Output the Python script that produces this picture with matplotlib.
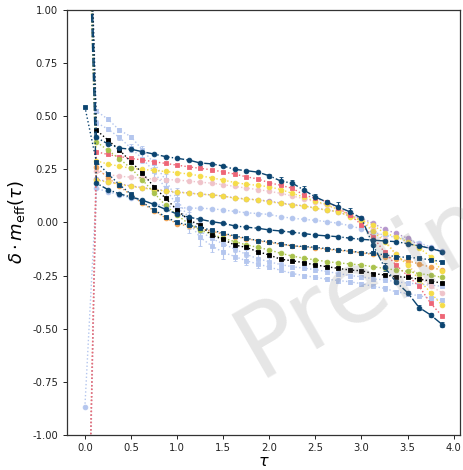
import matplotlib
matplotlib.use("Agg")
import matplotlib.pyplot as plt
import numpy as np

tau = [0.0, 0.125, 0.25, 0.375, 0.5, 0.625, 0.75, 0.875, 1.0, 1.125, 1.25, 1.375,
       1.5, 1.625, 1.75, 1.875, 2.0, 2.125, 2.25, 2.375, 2.5, 2.625, 2.75, 2.875,
       3.0, 3.125, 3.25, 3.375, 3.5, 3.625, 3.75, 3.875]

navy_top = [2.2, 0.40, 0.37, 0.35, 0.345, 0.333, 0.322, 0.31, 0.302, 0.294, 0.28, 0.276,
            0.266, 0.25, 0.244, 0.237, 0.22, 0.195, 0.185, 0.153, 0.12, 0.096, 0.073, 0.05,
            0.02, -0.106, -0.21, -0.28, -0.33, -0.40, -0.435, -0.48]
navy_top_err = [0, 0, 0, 0, 0, 0, 0, 0, 0, 0, 0, 0,
                0, 0, 0, 0, 0.01, 0.02, 0.015, 0.02, 0.015, 0.01, 0.025, 0.02,
                0.01, 0.03, 0.02, 0.01, 0.01, 0.01, 0.01, 0.01]
pink = [-2.4, 0.333, 0.32, 0.31, 0.302, 0.294, 0.286, 0.278, 0.27, 0.262, 0.255, 0.248,
        0.238, 0.228, 0.215, 0.205, 0.187, 0.175, 0.161, 0.13, 0.114, 0.098, 0.067, 0.035,
        -0.01, -0.067, -0.14, -0.2, -0.25, -0.30, -0.38, -0.44]
yellow = [2.0, 0.29, 0.275, 0.265, 0.255, 0.25, 0.245, 0.24, 0.235, 0.228, 0.22, 0.21,
          0.2, 0.188, 0.18, 0.175, 0.168, 0.155, 0.137, 0.12, 0.1, 0.085, 0.06, 0.035,
          0.005, -0.04, -0.09, -0.15, -0.2, -0.27, -0.33, -0.39]
light_pink = [-2.5, 0.24, 0.225, 0.218, 0.213, 0.208, 0.205, 0.202, 0.2, 0.195, 0.19, 0.185,
              0.178, 0.17, 0.162, 0.155, 0.147, 0.137, 0.125, 0.112, 0.098, 0.08, 0.06, 0.04,
              0.01, -0.03, -0.08, -0.15, -0.2, -0.25, -0.3, -0.33]
yellow2 = [2.05, 0.2, 0.19, 0.18, 0.17, 0.162, 0.155, 0.148, 0.142, 0.138, 0.133, 0.13,
           0.125, 0.114, 0.11, 0.106, 0.098, 0.09, 0.082, 0.078, 0.067, 0.058, 0.051, 0.027,
           0.012, -0.012, -0.05, -0.067, -0.09, -0.12, -0.16, -0.23]
purple = [-2.3, 0.205, 0.192, 0.182, 0.172, 0.164, 0.157, 0.15, 0.144, 0.139, 0.134, 0.13,
          0.124, 0.116, 0.111, 0.107, 0.1, 0.092, 0.084, 0.079, 0.068, 0.059, 0.05, 0.03,
          0.02, -0.004, -0.032, -0.051, -0.074, -0.106, -0.121, -0.137]
light_blue_mid = [-0.87, 0.16, 0.145, 0.13, 0.115, 0.1, 0.088, 0.078, 0.07, 0.068, 0.067, 0.065,
                  0.059, 0.052, 0.046, 0.042, 0.038, 0.027, 0.02, 0.015, 0.01, 0.004, -0.004, -0.015,
                  -0.03, -0.045, -0.06, -0.07, -0.08, -0.095, -0.115, -0.134]
navy_mid = [2.1, 0.185, 0.155, 0.135, 0.12, 0.105, 0.085, 0.062, 0.04, 0.025, 0.015, 0.004,
            -0.004, -0.016, -0.022, -0.027, -0.035, -0.04, -0.046, -0.052, -0.059, -0.063, -0.067, -0.074,
            -0.079, -0.083, -0.087, -0.09, -0.1, -0.11, -0.122, -0.137]
navy_low = [0.545, 0.286, 0.23, 0.178, 0.133, 0.095, 0.059, 0.027, 0.0, -0.012, -0.025, -0.035,
            -0.051, -0.063, -0.074, -0.085, -0.09, -0.1, -0.11, -0.113, -0.117, -0.123, -0.129, -0.134,
            -0.142, -0.145, -0.152, -0.161, -0.164, -0.168, -0.176, -0.184]
orange = [-2.3, 0.26, 0.21, 0.17, 0.13, 0.09, 0.055, 0.022, -0.005, -0.018, -0.03, -0.04,
          -0.055, -0.066, -0.076, -0.086, -0.094, -0.102, -0.11, -0.115, -0.12, -0.126, -0.131, -0.136,
          -0.143, -0.15, -0.16, -0.17, -0.18, -0.195, -0.21, -0.225]
green = [2.1, 0.38, 0.34, 0.30, 0.255, 0.2, 0.14, 0.08, 0.035, -0.005, -0.035, -0.055,
         -0.074, -0.09, -0.105, -0.117, -0.129, -0.145, -0.158, -0.168, -0.176, -0.184, -0.19, -0.195,
         -0.2, -0.208, -0.216, -0.224, -0.23, -0.24, -0.248, -0.258]
black = [2.3, 0.435, 0.388, 0.341, 0.286, 0.232, 0.168, 0.114, 0.059, 0.012, -0.012, -0.059,
         -0.08, -0.106, -0.117, -0.137, -0.153, -0.173, -0.18, -0.189, -0.2, -0.208, -0.216, -0.224,
         -0.227, -0.24, -0.247, -0.255, -0.258, -0.267, -0.275, -0.286]
light_blue_a = [2.2, 0.525, 0.486, 0.435, 0.404, 0.341, 0.28, 0.2, 0.11, 0.02, -0.04, -0.075,
                -0.1, -0.125, -0.15, -0.17, -0.185, -0.198, -0.208, -0.215, -0.222, -0.231, -0.24, -0.25,
                -0.255, -0.265, -0.27, -0.279, -0.285, -0.29, -0.295, -0.30]
light_blue_a_err = [0, 0.01, 0.01, 0.01, 0.01, 0.02, 0.02, 0.03, 0.05, 0.05, 0.04, 0.04,
                    0.03, 0.03, 0.02, 0.02, 0.02, 0.01, 0.01, 0.01, 0.01, 0.01, 0.01, 0.01,
                    0.01, 0.01, 0.01, 0.01, 0.01, 0.01, 0.01, 0.01]
light_blue_b = [2.0, 0.47, 0.44, 0.40, 0.35, 0.3, 0.24, 0.16, 0.08, 0.0, -0.07, -0.11,
                -0.14, -0.16, -0.18, -0.195, -0.21, -0.225, -0.24, -0.25, -0.258, -0.267, -0.273, -0.279,
                -0.288, -0.3, -0.31, -0.326, -0.335, -0.345, -0.355, -0.365]
light_blue_b_err = [0, 0.01, 0.01, 0.01, 0.02, 0.02, 0.03, 0.04, 0.05, 0.05, 0.04, 0.03,
                    0.03, 0.02, 0.02, 0.02, 0.01, 0.01, 0.01, 0.01, 0.01, 0.01, 0.01, 0.01,
                    0.01, 0.01, 0.01, 0.01, 0.01, 0.01, 0.01, 0.01]

C_NAVY = '#0b4470'
C_PINK = '#ee6677'
C_YEL = '#f5dc48'
C_LPINK = '#efc3ca'
C_PURP = '#b596cc'
C_LB = '#b4c6ee'
C_ORA = '#eea050'
C_GREEN = '#a9c24c'
C_BLACK = '#000000'

fig = plt.figure(figsize=(4.64, 4.70), dpi=100)
ax = fig.add_axes([67/464, 35/470, (460-67)/464, (435-10)/470])

series = [
    (light_blue_b, light_blue_b_err, C_LB, 's', ':'),
    (light_blue_a, light_blue_a_err, C_LB, 's', ':'),
    (light_blue_mid, None, C_LB, 'o', ':'),
    (light_pink, None, C_LPINK, 'o', ':'),
    (orange, None, C_ORA, 'o', ':'),
    (purple, None, C_PURP, 'o', ':'),
    (yellow2, None, C_YEL, 'o', ':'),
    (yellow, None, C_YEL, 'o', ':'),
    (pink, None, C_PINK, 's', ':'),
    (green, None, C_GREEN, 'o', ':'),
    (black, None, C_BLACK, 's', ':'),
    (navy_low, None, C_NAVY, 's', ':'),
    (navy_mid, None, C_NAVY, 'o', '-.'),
    (navy_top, navy_top_err, C_NAVY, 'o', '-.'),
]

for vals, err, col, mk, ls in series:
    ax.errorbar(tau, vals, yerr=err, color=col, marker=mk, markersize=3.4,
                linestyle=ls, linewidth=1.0, capsize=1.5, elinewidth=0.8,
                markeredgewidth=0.6)

ax.set_ylim(-1.0, 1.0)
ax.set_xticks([0.0, 0.5, 1.0, 1.5, 2.0, 2.5, 3.0, 3.5, 4.0])
ax.set_yticks([-1.0, -0.75, -0.5, -0.25, 0.0, 0.25, 0.5, 0.75, 1.0])
ax.xaxis.set_major_formatter(matplotlib.ticker.FormatStrFormatter('%.1f'))
ax.yaxis.set_major_formatter(matplotlib.ticker.FormatStrFormatter('%.2f'))
ax.tick_params(labelsize=7.2, length=3, width=0.7, colors='#222222')
ax.tick_params(axis='x', pad=2.5)
for sp in ax.spines.values():
    sp.set_linewidth(0.9)
    sp.set_color('#333333')
ax.set_ylabel(r'$\delta \cdot m_{\mathrm{eff}}(\tau)$', fontsize=13, labelpad=4)
# x-axis label placed just below the tick labels
fig.text(263/464, 1 - 461/470, 'τ', fontsize=11.5, fontstyle='italic',
         ha='center', va='center')

fig.text(258/464, 1 - 378/470, 'Preliminary', rotation=30, rotation_mode='anchor',
         ha='left', va='baseline', fontsize=72, color='gray', alpha=0.2, zorder=10)

fig.savefig('out.png', dpi=100)
